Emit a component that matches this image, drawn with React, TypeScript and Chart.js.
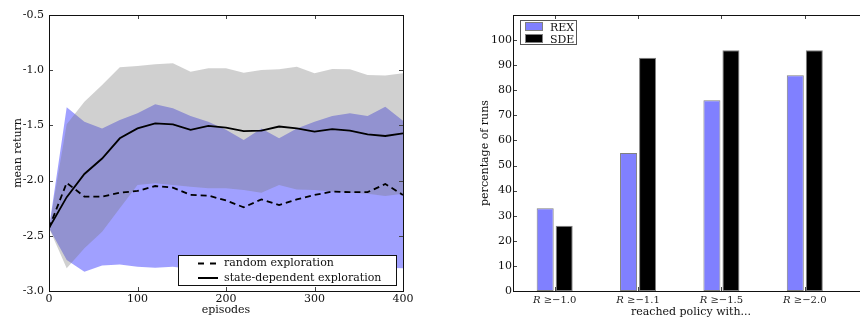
import React, { useEffect, useRef } from "react";
import { Chart, registerables } from "chart.js";

Chart.register(...registerables);

// ---------- data: left panel (mean return vs. episodes) ----------
const episodes = [0, 20, 40, 60, 80, 100, 120, 140, 160, 180, 200, 220, 240, 260, 280, 300, 320, 340, 360, 380, 400];
const sdeMean = [-2.43, -2.15, -1.94, -1.8, -1.617, -1.527, -1.481, -1.49, -1.54, -1.505, -1.52, -1.551, -1.548, -1.51, -1.527, -1.557, -1.533, -1.548, -1.581, -1.596, -1.572];
const rexMean = [-2.43, -2.02, -2.145, -2.145, -2.11, -2.094, -2.049, -2.064, -2.13, -2.136, -2.18, -2.242, -2.17, -2.221, -2.17, -2.13, -2.1, -2.105, -2.105, -2.031, -2.13];
const sdeUpper = [-2.43, -1.49, -1.285, -1.134, -0.974, -0.962, -0.947, -0.938, -1.013, -0.983, -0.983, -1.022, -0.998, -0.992, -0.968, -1.028, -0.99, -0.992, -1.043, -1.048, -1.028];
const sdeLower = [-2.43, -2.795, -2.613, -2.463, -2.251, -2.04, -2.025, -2.04, -2.055, -2.07, -2.07, -2.085, -2.11, -2.04, -2.08, -2.085, -2.1, -2.11, -2.12, -2.14, -2.12];
const rexUpper = [-2.43, -1.336, -1.466, -1.527, -1.451, -1.39, -1.309, -1.345, -1.415, -1.466, -1.54, -1.632, -1.527, -1.617, -1.527, -1.466, -1.415, -1.39, -1.415, -1.33, -1.457];
const rexLower = [-2.43, -2.72, -2.825, -2.77, -2.76, -2.78, -2.79, -2.78, -2.8, -2.8, -2.79, -2.79, -2.79, -2.79, -2.79, -2.79, -2.79, -2.79, -2.79, -2.79, -2.795];
const lineLegend = ["random exploration", "state-dependent exploration"];

// ---------- data: right panel (percentage of runs) ----------
const barThresholds = ["\u22121.0", "\u22121.1", "\u22121.5", "\u22122.0"];
const rexPercent = [33, 55, 76, 86];
const sdePercent = [26, 93, 96, 96];
const barLegend = ["REX", "SDE"];

const SERIF = "'DejaVu Serif', serif";
const TXT = "#111";

function drawFrame(chart: any, skipY?: (v: number) => boolean) {
  const { ctx, chartArea: a } = chart;
  const xs = chart.scales.x;
  const ys = chart.scales.y;
  const L = 4;
  ctx.save();
  ctx.strokeStyle = "#444";
  ctx.lineWidth = 1;
  ctx.beginPath();
  for (const t of xs.ticks) {
    const p = Math.round(xs.getPixelForValue(t.value)) + 0.5;
    ctx.moveTo(p, a.bottom);
    ctx.lineTo(p, a.bottom - L);
    ctx.moveTo(p, a.top);
    ctx.lineTo(p, a.top + L);
  }
  for (const t of ys.ticks) {
    if (skipY && skipY(t.value)) continue;
    const p = Math.round(ys.getPixelForValue(t.value)) + 0.5;
    ctx.moveTo(a.left, p);
    ctx.lineTo(a.left + L, p);
    ctx.moveTo(a.right, p);
    ctx.lineTo(a.right - L, p);
  }
  ctx.stroke();
  ctx.strokeStyle = "#111";
  ctx.strokeRect(Math.round(a.left) + 0.5, Math.round(a.top) + 0.5, Math.round(a.right - a.left), Math.round(a.bottom - a.top));
  ctx.restore();
}

const leftDecor = {
  id: "leftDecor",
  afterDraw(chart: any) {
    drawFrame(chart);
    const ctx = chart.ctx;
    ctx.save();
    ctx.fillStyle = "#fff";
    ctx.fillRect(178.5, 255.5, 218, 30);
    ctx.strokeStyle = "#111";
    ctx.lineWidth = 1;
    ctx.strokeRect(178.5, 255.5, 218, 30);
    ctx.lineWidth = 2;
    ctx.strokeStyle = "#000";
    ctx.setLineDash([6, 6]);
    ctx.beginPath();
    ctx.moveTo(198, 263.5);
    ctx.lineTo(218, 263.5);
    ctx.stroke();
    ctx.setLineDash([]);
    ctx.beginPath();
    ctx.moveTo(198, 278);
    ctx.lineTo(218, 278);
    ctx.stroke();
    ctx.fillStyle = TXT;
    ctx.font = `11px ${SERIF}`;
    ctx.textBaseline = "alphabetic";
    ctx.textAlign = "left";
    ctx.fillText(lineLegend[0], 224, 265.5);
    ctx.fillText(lineLegend[1], 224, 280.5);
    ctx.restore();
  },
};

const rightDecor = {
  id: "rightDecor",
  afterDraw(chart: any) {
    drawFrame(chart, (v) => v > 100);
    const ctx = chart.ctx;
    const xs = chart.scales.x;
    ctx.save();
    ctx.fillStyle = "#222";
    ctx.textBaseline = "alphabetic";
    ctx.textAlign = "left";
    barThresholds.forEach((th, i) => {
      const cx = xs.getPixelForValue(i);
      const r = "R";
      const rest = " \u2265" + th;
      ctx.font = `italic 10px ${SERIF}`;
      const w1 = ctx.measureText(r).width;
      ctx.font = `10px ${SERIF}`;
      const w2 = ctx.measureText(rest).width;
      const x0 = cx - (w1 + w2) / 2;
      ctx.font = `italic 10px ${SERIF}`;
      ctx.fillText(r, x0, 302.5);
      ctx.font = `10px ${SERIF}`;
      ctx.fillText(rest, x0 + w1, 302.5);
    });
    ctx.fillStyle = "#fff";
    ctx.fillRect(90.5, 20.5, 56, 24);
    ctx.strokeStyle = "#555";
    ctx.lineWidth = 1;
    ctx.strokeRect(90.5, 20.5, 56, 24);
    ctx.fillStyle = "#8080ff";
    ctx.fillRect(95.5, 22.5, 17, 8);
    ctx.strokeStyle = "#808080";
    ctx.strokeRect(95.5, 22.5, 17, 8);
    ctx.fillStyle = "#000";
    ctx.fillRect(95.5, 34.5, 17, 8);
    ctx.strokeRect(95.5, 34.5, 17, 8);
    ctx.fillStyle = TXT;
    ctx.font = `11px ${SERIF}`;
    ctx.fillText(barLegend[0], 120, 31);
    ctx.fillText(barLegend[1], 120, 43);
    ctx.restore();
  },
};

function xy(ys: number[]) {
  return ys.map((y, i) => ({ x: episodes[i], y }));
}

export default function App() {
  const leftRef = useRef<HTMLCanvasElement>(null);
  const rightRef = useRef<HTMLCanvasElement>(null);

  useEffect(() => {
    const font = { family: SERIF, size: 11 };
    const left = new Chart(leftRef.current as HTMLCanvasElement, {
      type: "line",
      data: {
        datasets: [
          { label: lineLegend[1], data: xy(sdeMean), borderColor: "#000", borderWidth: 1.8, pointRadius: 0, fill: false, order: 0, tension: 0 },
          { label: lineLegend[0], data: xy(rexMean), borderColor: "#000", borderWidth: 1.8, borderDash: [6, 4], pointRadius: 0, fill: false, order: 1, tension: 0 },
          { label: "sde upper", data: xy(sdeUpper), borderColor: "transparent", borderWidth: 0, pointRadius: 0, backgroundColor: "rgba(117,117,117,0.34)", fill: "+1", order: 2 },
          { label: "sde lower", data: xy(sdeLower), borderColor: "transparent", borderWidth: 0, pointRadius: 0, fill: false, order: 2 },
          { label: "rex upper", data: xy(rexUpper), borderColor: "transparent", borderWidth: 0, pointRadius: 0, backgroundColor: "rgba(0,0,255,0.373)", fill: "+1", order: 3 },
          { label: "rex lower", data: xy(rexLower), borderColor: "transparent", borderWidth: 0, pointRadius: 0, fill: false, order: 3 },
        ],
      },
      options: {
        responsive: false,
        animation: false,
        devicePixelRatio: 1,
        layout: { padding: { top: 15, right: 27, left: 0, bottom: 0 } },
        plugins: { legend: { display: false }, tooltip: { enabled: false } },
        scales: {
          x: {
            type: "linear",
            min: 0,
            max: 400,
            ticks: { stepSize: 100, padding: 2, color: TXT, font, maxRotation: 0 },
            grid: { display: false, drawTicks: false },
            border: { display: false },
            title: { display: true, text: "episodes", color: TXT, font, padding: { top: 0, bottom: 5 } },
            afterFit: (s: any) => { s.height = 31; },
          },
          y: {
            type: "linear",
            min: -3,
            max: -0.5,
            ticks: { stepSize: 0.5, padding: 5, color: TXT, font, callback: (v: any) => Number(v).toFixed(1) },
            grid: { display: false, drawTicks: false },
            border: { display: false },
            title: { display: true, text: "mean return", color: TXT, font, padding: { top: 12, bottom: 0 } },
            afterFit: (s: any) => { s.width = 49; },
          },
        },
      },
      plugins: [leftDecor],
    } as any);

    const right = new Chart(rightRef.current as HTMLCanvasElement, {
      type: "bar",
      data: {
        datasets: [
          { label: barLegend[0], data: rexPercent.map((v, i) => ({ x: i, y: v })), backgroundColor: "#8080ff", borderColor: "#808080", borderWidth: 1, borderSkipped: false, categoryPercentage: 0.456, barPercentage: 0.895 },
          { label: barLegend[1], data: sdePercent.map((v, i) => ({ x: i, y: v })), backgroundColor: "#000", borderColor: "#808080", borderWidth: 1, borderSkipped: false, categoryPercentage: 0.456, barPercentage: 0.895 },
        ],
      },
      options: {
        responsive: false,
        animation: false,
        devicePixelRatio: 1,
        layout: { padding: { top: 15, right: 11, left: 0, bottom: 0 } },
        plugins: { legend: { display: false }, tooltip: { enabled: false } },
        scales: {
          x: {
            type: "linear",
            offset: false,
            min: -0.5,
            max: 3.77,
            ticks: { display: false },
            afterBuildTicks: (s: any) => { s.ticks = barThresholds.map((_, i) => ({ value: i })); },
            grid: { display: false, drawTicks: false, offset: false },
            border: { display: false },
            title: { display: true, text: "reached policy with...", color: TXT, font, padding: { top: 0, bottom: 3.5 } },
            afterFit: (s: any) => { s.height = 31; },
          },
          y: {
            type: "linear",
            min: 0,
            max: 110,
            ticks: { stepSize: 10, padding: 1, color: TXT, font, callback: (v: any) => (Number(v) > 100 ? "" : String(v)) },
            grid: { display: false, drawTicks: false },
            border: { display: false },
            title: { display: true, text: "percentage of runs", color: TXT, font, padding: { top: 49, bottom: 0 } },
            afterFit: (s: any) => { s.width = 83; },
          },
        },
      },
      plugins: [rightDecor],
    } as any);

    return () => {
      left.destroy();
      right.destroy();
    };
  }, []);

  return (
    <div style={{ position: "absolute", left: 0, top: 0, width: 860, height: 322, overflow: "hidden", background: "#fff" }}>
      <canvas ref={leftRef} width={430} height={322} style={{ position: "absolute", left: 0, top: 0, width: 430, height: 322 }} />
      <canvas ref={rightRef} width={450} height={322} style={{ position: "absolute", left: 430, top: 0, width: 450, height: 322 }} />
    </div>
  );
}
